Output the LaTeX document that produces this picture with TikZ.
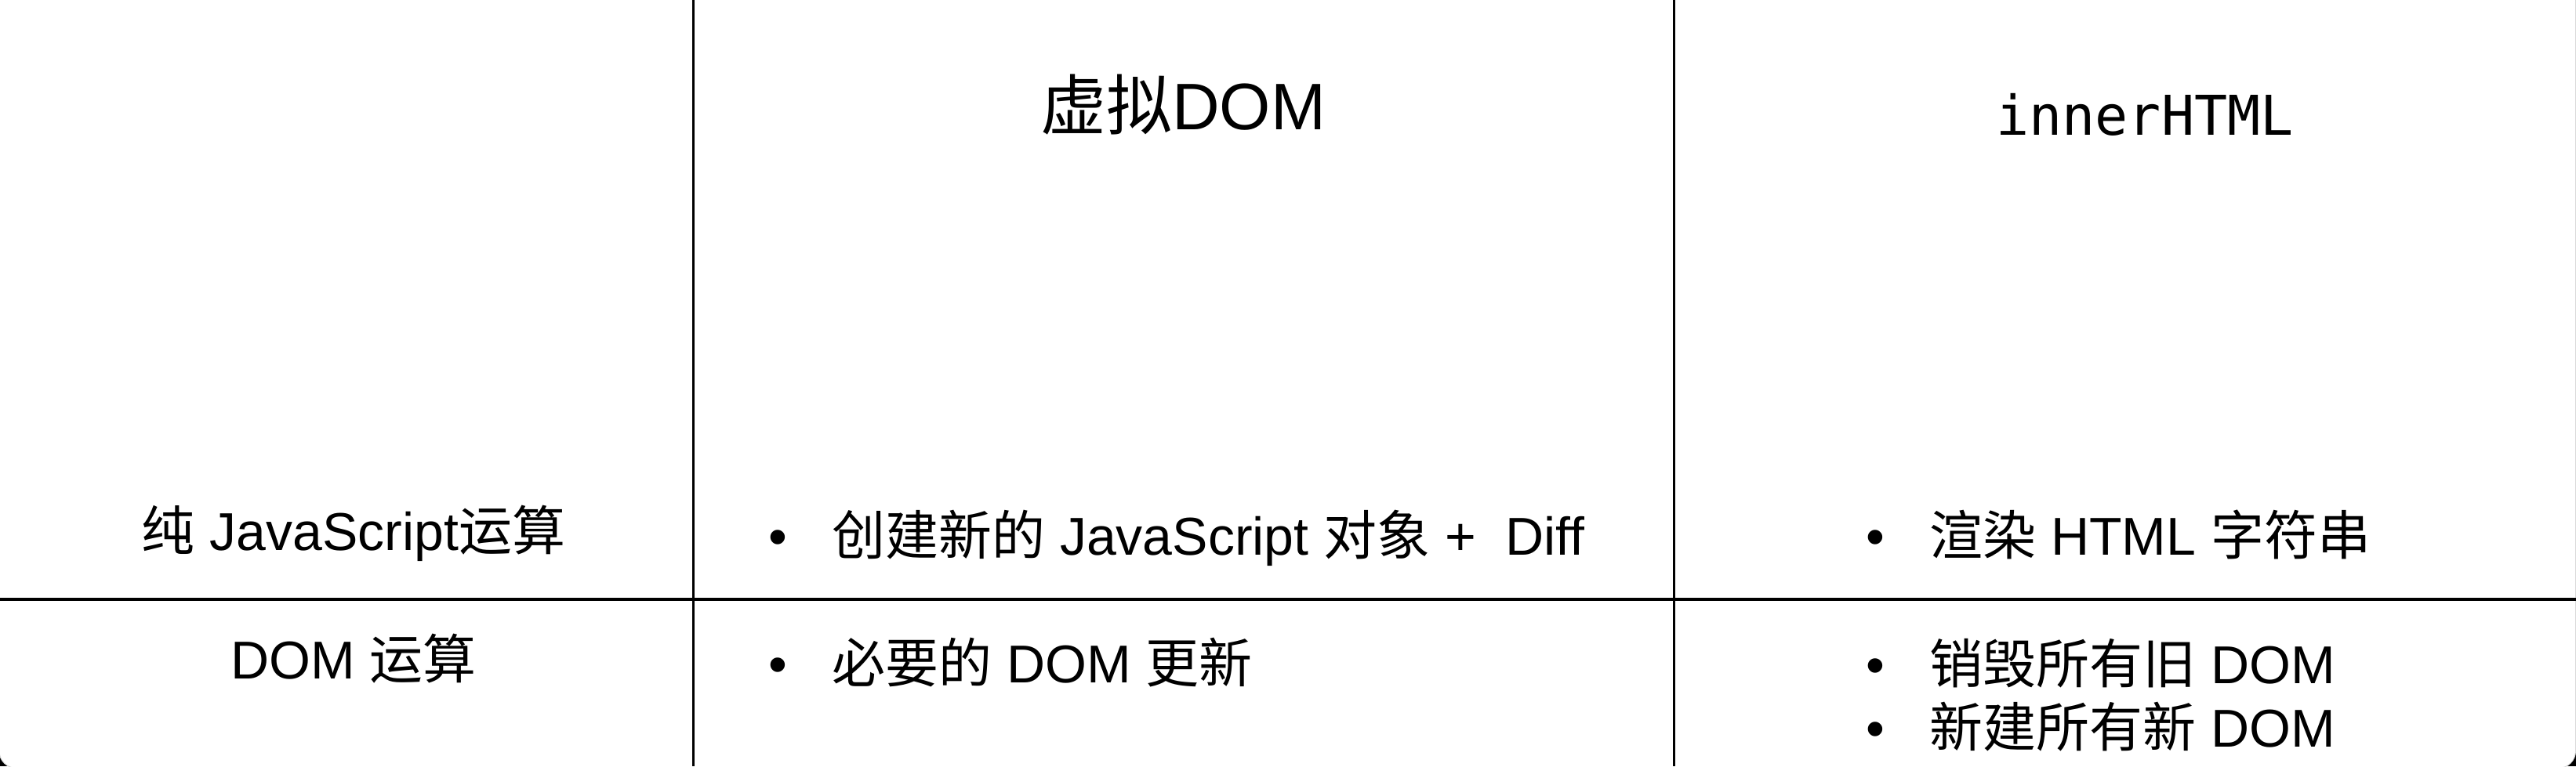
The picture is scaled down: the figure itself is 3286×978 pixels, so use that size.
\documentclass[tikz,border=0pt]{standalone}
\usepackage{fontspec}
\setmainfont{Liberation Sans}
\newfontfamily\cjk{Noto Sans CJK SC}
\newfontfamily\monofnt{DejaVu Sans Mono}
\newcommand\bul[1]{\makebox[81pt][l]{•}#1}
\begin{document}
\begin{tikzpicture}[x=1pt,y=-1pt,
  grid/.style={line width=3pt, black},
  hgrid/.style={line width=4pt, black},
  bodytext/.style={inner sep=0pt, font=\fontsize{68}{80}\selectfont},
  headtext/.style={inner sep=0pt, font=\fontsize{84}{96}\selectfont, anchor=base},
  monohead/.style={inner sep=0pt, font=\fontsize{70}{80}\selectfont\monofnt, anchor=base}]
\useasboundingbox (0,0) rectangle (3286,978);
\fill[black] (0,0) rectangle (3286,978);
\filldraw[fill=white, draw=black!15, line width=1pt, rounded corners=22pt] (-1,-40) rectangle (3285.5,980.5);
% grid
\draw[grid] (884,0) -- (884,978);
\draw[grid] (2135,0) -- (2135,978);
\draw[hgrid] (0,765) -- (3286,765);
% headers
\node[headtext] (hvdom) at (1509,165) {{\cjk 虚拟}DOM};
\node[monohead] (hinner) at (2736,172) {innerHTML};
% row labels
\node[bodytext, anchor=base] (rjs) at (451,702) {{\cjk 纯} JavaScript{\cjk 运算}};
\node[bodytext, anchor=base] (rdom) at (451,866) {DOM {\cjk 运算}};
% column 2
\node[bodytext, anchor=base west] (vjs) at (980,708) {\bul{{\cjk 创建新的} JavaScript {\cjk 对象} +\ \ Diff}};
\node[bodytext, anchor=base west] (vdom) at (980,871) {\bul{{\cjk 必要的} DOM {\cjk 更新}}};
% column 3
\node[bodytext, anchor=base west] (ijs) at (2380,708) {\bul{{\cjk 渲染} HTML {\cjk 字符串}}};
\node[bodytext, anchor=base west] (idom1) at (2380,872) {\bul{{\cjk 销毁所有旧} DOM}};
\node[bodytext, anchor=base west] (idom2) at (2380,953) {\bul{{\cjk 新建所有新} DOM}};
\end{tikzpicture}
\end{document}
